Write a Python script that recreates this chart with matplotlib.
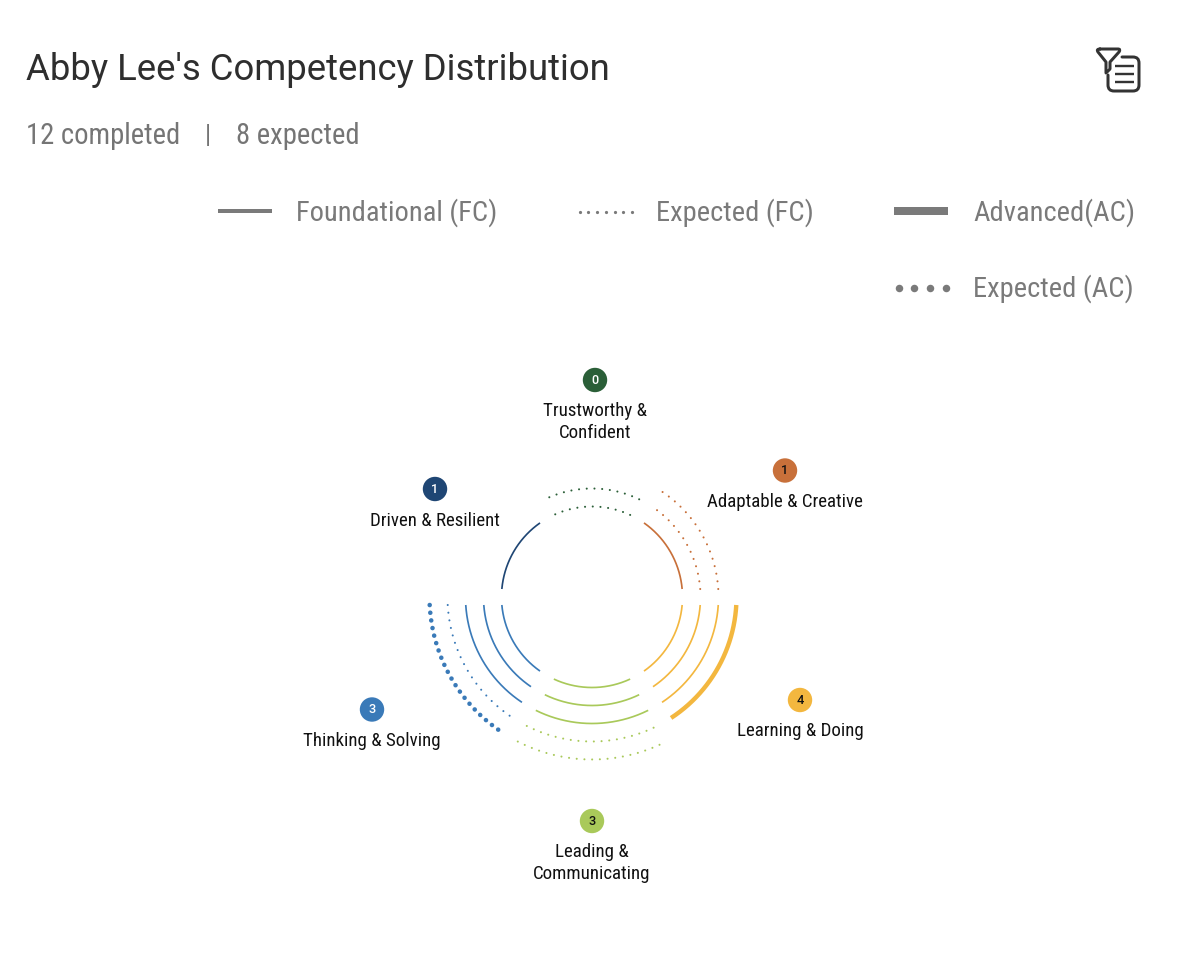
import numpy as np
import matplotlib
matplotlib.use('Agg')
import matplotlib.pyplot as plt
from matplotlib import font_manager as fm
from matplotlib.patches import Circle, PathPatch
from matplotlib.path import Path

# competency data, clockwise from the right hand side (screen angle)
categories = ['Learning & Doing', 'Leading &\nCommunicating', 'Thinking & Solving',
              'Driven & Resilient', 'Trustworthy &\nConfident', 'Adaptable & Creative']
completed = [4, 3, 3, 1, 0, 1]
foundational = [3, 3, 3, 1, 0, 1]
advanced = [1, 0, 0, 0, 0, 0]
expected_fc = [0, 2, 1, 0, 2, 2]
expected_ac = [0, 0, 1, 0, 0, 0]
colors = ['#f3b73f', '#a9c95a', '#3a7ab8', '#1f4674', '#2b5f38', '#c8703a']
number_colors = ['#111111', '#111111', 'white', 'white', 'white', '#111111']

title = "Abby Lee's Competency Distribution"
subtitle = ['12 completed', '|', '8 expected']
legend_names = ['Foundational (FC)', 'Expected (FC)', 'Advanced(AC)', 'Expected (AC)']

names = {f.name for f in fm.fontManager.ttflist}
narrow = 'Roboto Condensed' if 'Roboto Condensed' in names else 'Liberation Sans Narrow'
plt.rcParams['font.family'] = ['Roboto', 'DejaVu Sans']

PX = 0.72  # points per pixel at dpi 100
CX, CY = 592, 598
R0, STEP, GAP = 90.5, 18, 8

fig = plt.figure(figsize=(11.86, 9.62), dpi=100)
ax = fig.add_axes([0, 0, 1, 1])
ax.set_xlim(0, 1186)
ax.set_ylim(962, 0)
ax.axis('off')


def draw_arc(sector, ring, kind, color):
    r = R0 + STEP * ring
    pad = np.degrees(np.arcsin(GAP / r))
    # walk backwards so the dots start on the sector's far end, like the original
    a = np.radians(np.linspace((sector + 1) * 60 - pad, sector * 60 + pad, 200))
    x, y = CX + r * np.cos(a), CY + r * np.sin(a)
    if kind == 'fc':
        ax.plot(x, y, color=color, lw=1.7 * PX, solid_capstyle='butt')
    elif kind == 'ac':
        ax.plot(x, y, color=color, lw=4.4 * PX, solid_capstyle='butt')
    elif kind == 'efc':
        ax.plot(x, y, color=color, lw=2.1 * PX, dash_capstyle='round',
                linestyle=(0, (0.01, 7.7 / 2.1)))
    else:
        ax.plot(x, y, color=color, lw=4.6 * PX, dash_capstyle='round',
                linestyle=(0, (0.01, 7.7 / 4.6)))


for i in range(6):
    rings = ['fc'] * foundational[i] + ['ac'] * advanced[i] + ['efc'] * expected_fc[i] + ['eac'] * expected_ac[i]
    for ring, kind in enumerate(rings):
        draw_arc(i, ring, kind, colors[i])

# badges and names
badge_xy = [(800, 701), (592, 822), (372, 710.5), (435, 490), (595, 381), (785, 471.5)]
for i, (bx, by) in enumerate(badge_xy):
    ax.add_patch(Circle((bx, by), 12.2, color=colors[i], lw=0))
    ax.text(bx, by - 0.5, str(completed[i]), ha='center', va='center', fontsize=9.2,
            fontweight='medium', color=number_colors[i])
    ax.text(bx, by + 21.5, categories[i], ha='center', va='top', fontsize=13.6, color='#111111',
            family=[narrow, 'Roboto'], linespacing=1.28)

# header
ax.text(26, 65.5, title, fontsize=26.3, color='#2e2e2e', va='center_baseline')
ax.text(26, 133, subtitle[0], fontsize=20.6, color='#757575', va='center_baseline', family=[narrow, 'Roboto'])
ax.text(208, 133, subtitle[1], fontsize=18, color='#757575', va='center_baseline', ha='center', family=[narrow, 'Roboto'])
ax.text(236, 133, subtitle[2], fontsize=20.6, color='#757575', va='center_baseline', family=[narrow, 'Roboto'])

# legend
grey = '#7a7a7a'
ax.plot([218, 272], [212, 212], color=grey, lw=4 * PX, solid_capstyle='butt')
ax.plot([894, 948], [212, 212], color=grey, lw=8 * PX, solid_capstyle='butt')
ax.plot(np.linspace(579.5, 632, 7), [212.5] * 7, ls='none', marker='o', ms=3.2 * PX, color=grey, mew=0)
ax.plot(np.linspace(898.5, 946, 4), [288.5] * 4, ls='none', marker='o', ms=7.5 * PX, color=grey, mew=0)
legend_xy = [(296, 213), (656, 213), (973, 213), (973, 289)]
for name, (lx, ly) in zip(legend_names, legend_xy):
    ax.text(lx, ly, name, fontsize=20.5, color=grey, va='center', family=[narrow, 'Roboto'])

# filter/list icon
ic = '#333333'
L, C = Path.LINETO, Path.CURVE3
funnel = Path([(1100, 50), (1118, 50), (1121, 50), (1119, 53), (1110, 63), (1110, 70), (1106, 74), (1106, 63),
               (1098, 53), (1096, 50), (1100, 50)],
              [Path.MOVETO, L, C, C, L, L, L, L, L, C, C])
doc = Path([(1122, 58), (1133, 58), (1139, 58), (1139, 64), (1139, 86), (1139, 92), (1133, 92),
            (1114, 92), (1108, 92), (1108, 86), (1108, 76)],
           [Path.MOVETO, L, C, C, L, C, C, L, C, C, L])
for p in (funnel, doc):
    ax.add_patch(PathPatch(p, fill=False, edgecolor=ic, lw=3 * PX, joinstyle='round', capstyle='round'))
for ly in (67, 75, 83):
    ax.plot([1115, 1134], [ly, ly], color=ic, lw=2.4 * PX, solid_capstyle='butt')

fig.savefig('out.png', dpi=100)
